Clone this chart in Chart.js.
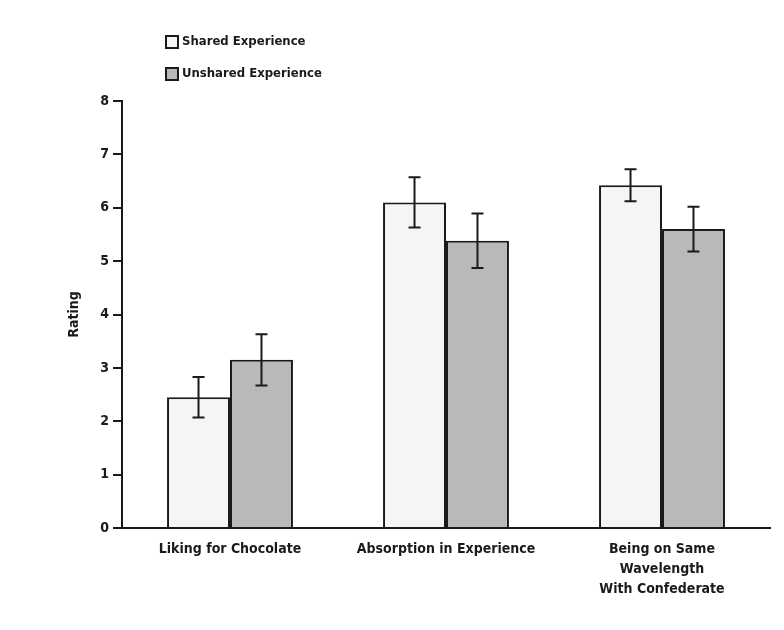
<!DOCTYPE html>
<html>
<head>
<meta charset="utf-8">
<script src="https://cdn.jsdelivr.net/npm/chart.js@4"></script>
<style>
  body { margin: 0; background: #fff; }
  #wrap { position: relative; width: 784px; height: 630px; }
  #legend { position: absolute; left: 165px; top: 33px; font-family: 'DejaVu Sans Condensed', 'Liberation Sans Narrow', sans-serif; font-weight: bold; font-size: 13px; color: #1a1a1a; }
  #legend div { height: 32px; display: flex; align-items: flex-start; }
  #legend span.box { display: inline-block; width: 10px; height: 10px; border: 2px solid #1a1a1a; margin-right: 3px; margin-top: 2px; }
</style>
</head>
<body>
<div id="wrap">
  <canvas id="Grafica" width="784" height="630"></canvas>
  <div id="legend"></div>
</div>
<script>
const categories = ['Liking for Chocolate', 'Absorption in Experience', ['Being on Same', 'Wavelength', 'With Confederate']];
const seriesNames = ['Shared Experience', 'Unshared Experience'];
const sharedMeans = [2.45, 6.10, 6.42];
const sharedErr = [0.38, 0.47, 0.30];
const unsharedMeans = [3.15, 5.38, 5.60];
const unsharedErr = [0.48, 0.51, 0.42];
const yTicks = [0, 1, 2, 3, 4, 5, 6, 7, 8];

const fillColors = ['#f4f6f5', '#b9b9bb'];
const fontFam = "'DejaVu Sans Condensed', 'Liberation Sans Narrow', sans-serif";

// error bars drawn from each bar element and the y scale
const errorBars = {
    id: 'errorBars',
    afterDatasetsDraw(chart) {
        const ctx = chart.ctx;
        const y = chart.scales.y;
        ctx.save();
        ctx.strokeStyle = '#1a1a1a';
        ctx.lineWidth = 2;
        chart.data.datasets.forEach(function(ds, i){
            chart.getDatasetMeta(i).data.forEach(function(bar, j){
                const m = ds.data[j], e = ds.errors[j];
                const top = y.getPixelForValue(m + e);
                const bot = y.getPixelForValue(m - e);
                ctx.beginPath();
                ctx.moveTo(bar.x, top); ctx.lineTo(bar.x, bot);
                ctx.moveTo(bar.x - 6, top); ctx.lineTo(bar.x + 6, top);
                ctx.moveTo(bar.x - 6, bot); ctx.lineTo(bar.x + 6, bot);
                ctx.stroke();
            });
        });
        ctx.restore();
    }
};

const ctx = document.getElementById('Grafica').getContext('2d');
const myChart = new Chart(ctx, {
    type: 'bar',
    data: {
        labels: categories,
        datasets: [{
            label: seriesNames[0],
            data: sharedMeans,
            errors: sharedErr,
            backgroundColor: fillColors[0],
            borderColor: '#1a1a1a',
            borderWidth: 2
        }, {
            label: seriesNames[1],
            data: unsharedMeans,
            errors: unsharedErr,
            backgroundColor: fillColors[1],
            borderColor: '#1a1a1a',
            borderWidth: 2
        }]
    },
    options: {
        responsive: false,
        animation: false,
        layout: { padding: { left: 62, top: 101, right: 14, bottom: 30 } },
        datasets: { bar: { categoryPercentage: 0.583, barPercentage: 1.0 } },
        plugins: {
            legend: { display: false },
            tooltip: { enabled: false }
        },
        scales: {
            x: {
                grid: { display: false },
                border: { display: true, color: '#1a1a1a', width: 2 },
                ticks: { color: '#1a1a1a', font: { family: fontFam, size: 14, weight: 'bold', lineHeight: 1.4 }, maxRotation: 0, padding: 4 },
                afterFit(scale) { scale.height = 72; }
            },
            y: {
                min: 0, max: 8,
                afterBuildTicks(scale) { scale.ticks = yTicks.map(v => ({ value: v })); },
                grid: { drawOnChartArea: false, drawTicks: true, tickLength: 9, color: '#1a1a1a', lineWidth: 2 },
                border: { display: true, color: '#1a1a1a', width: 2 },
                ticks: { color: '#1a1a1a', font: { family: fontFam, size: 14, weight: 'bold' }, padding: 4 },
                title: { display: true, text: 'Rating', color: '#1a1a1a', font: { family: fontFam, size: 14, weight: 'bold' }, padding: 4 },
                afterFit(scale) { scale.width = 60; }
            }
        }
    },
    plugins: [errorBars]
});

const legendDiv = document.getElementById('legend');
seriesNames.forEach(function(name, i){
    const row = document.createElement('div');
    const box = document.createElement('span');
    box.className = 'box';
    box.style.background = fillColors[i];
    row.appendChild(box);
    row.appendChild(document.createTextNode(name));
    legendDiv.appendChild(row);
});
</script>
</body>
</html>
